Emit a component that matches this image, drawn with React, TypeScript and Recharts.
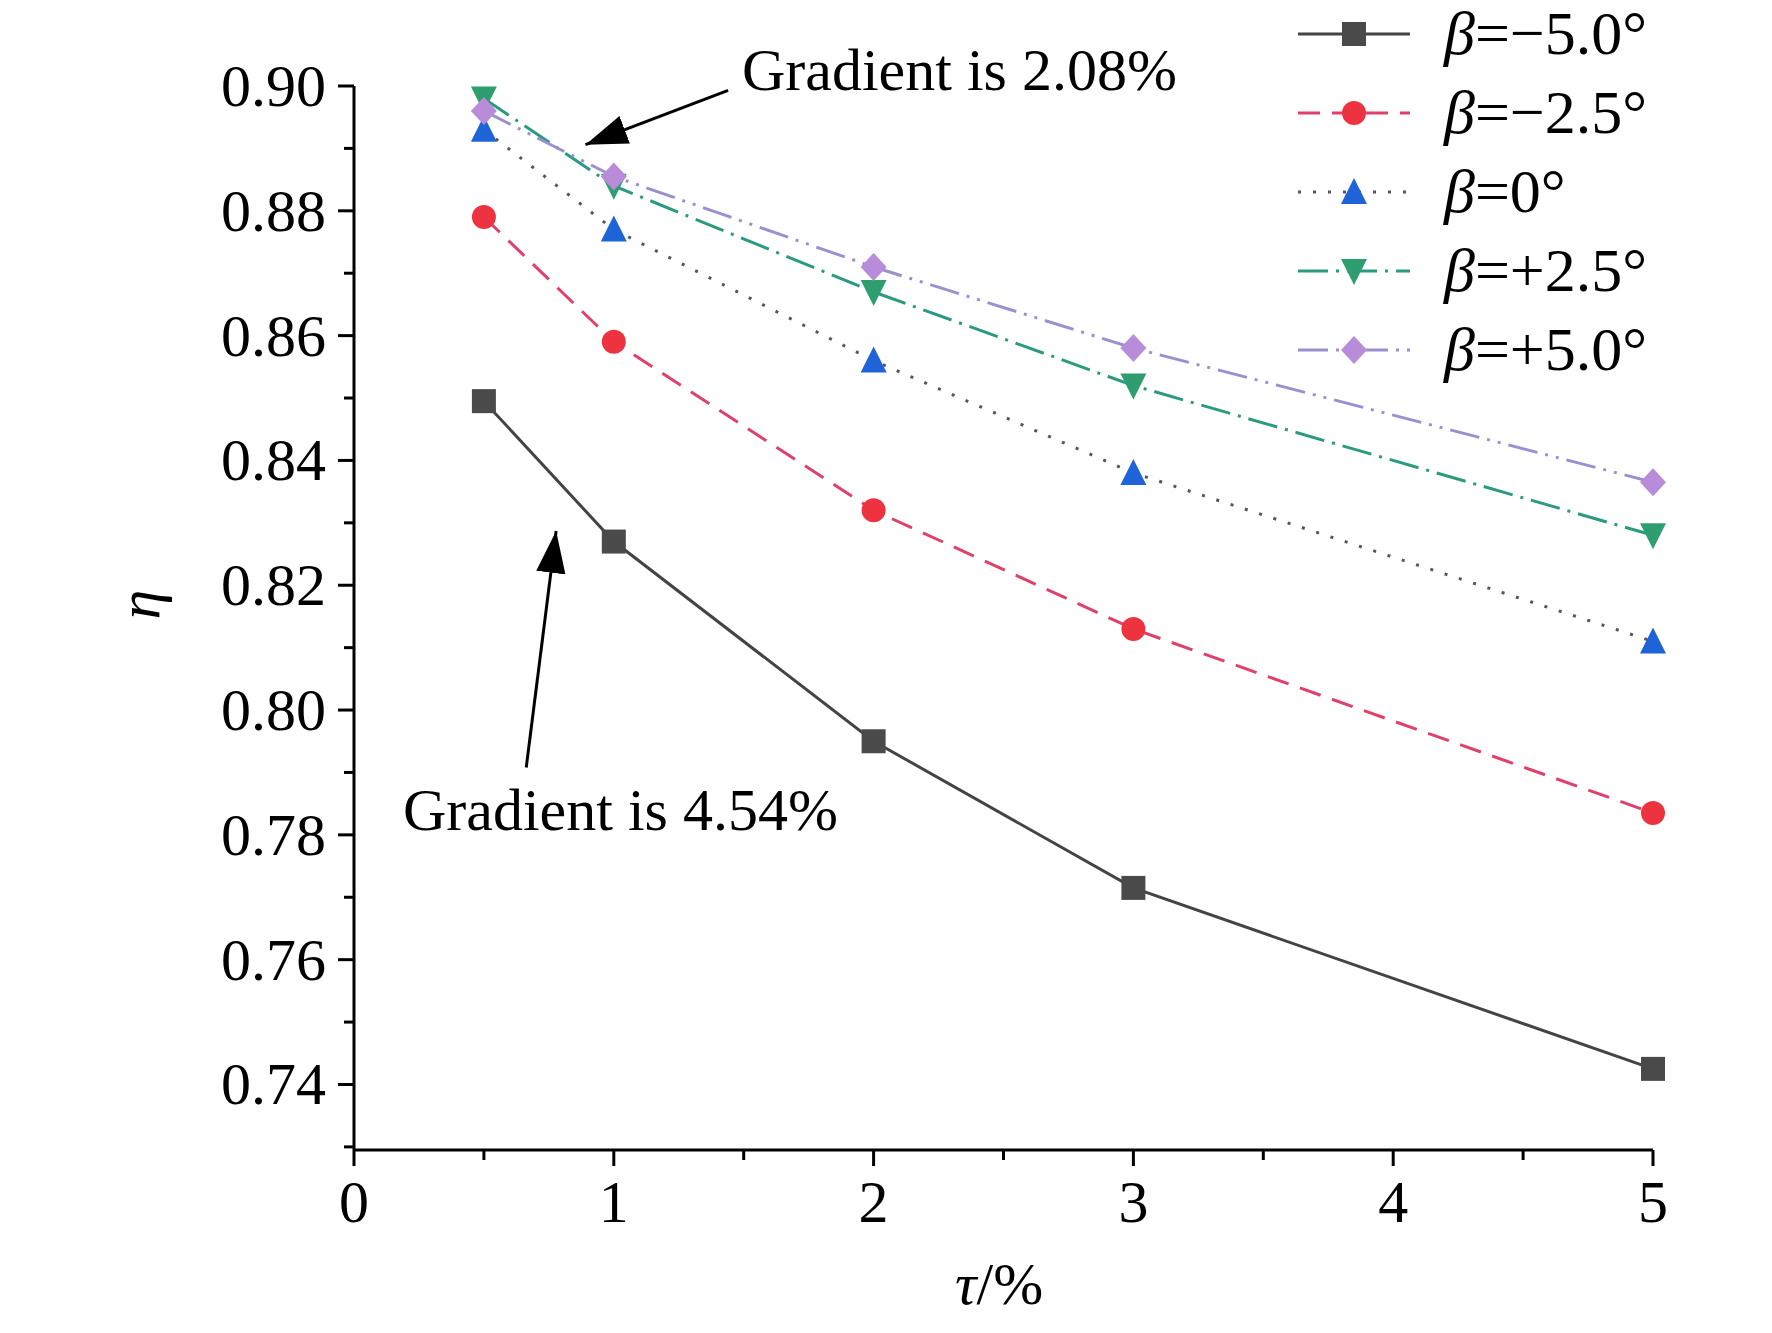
import React from 'react';
import { LineChart, Line, XAxis, YAxis, ReferenceLine } from 'recharts';

const tau = [0.5, 1, 2, 3, 5];
const bM50 = [0.8495, 0.827, 0.795, 0.7715, 0.7425];
const bM25 = [0.879, 0.859, 0.832, 0.813, 0.7835];
const b0 = [0.893, 0.877, 0.856, 0.838, 0.811];
const bP25 = [0.898, 0.884, 0.867, 0.852, 0.828];
const bP50 = [0.896, 0.8855, 0.871, 0.858, 0.8365];
const xTicks = [0, 0.5, 1, 1.5, 2, 2.5, 3, 3.5, 4, 4.5, 5];
const yTicks = [0.73, 0.74, 0.75, 0.76, 0.77, 0.78, 0.79, 0.8, 0.81, 0.82, 0.83, 0.84, 0.85, 0.86, 0.87, 0.88, 0.89, 0.9];

const data = tau.map((t, i) => ({ t, a: bM50[i], b: bM25[i], c: b0[i], d: bP25[i], e: bP50[i] }));

const FONT = 'Liberation Serif, Times New Roman, serif';

const Marker = ({ kind, cx, cy, fill }: any) => {
  const s = 12;
  if (kind === 'square') return <rect x={cx - s} y={cy - s} width={2 * s} height={2 * s} fill={fill} />;
  if (kind === 'circle') return <circle cx={cx} cy={cy} r={s} fill={fill} />;
  if (kind === 'up') return <polygon points={`${cx},${cy - s - 2} ${cx - s - 1},${cy + s} ${cx + s + 1},${cy + s}`} fill={fill} />;
  if (kind === 'down') return <polygon points={`${cx},${cy + s + 2} ${cx - s - 1},${cy - s} ${cx + s + 1},${cy - s}`} fill={fill} />;
  return <polygon points={`${cx},${cy - s - 2} ${cx + s + 1},${cy} ${cx},${cy + s + 2} ${cx - s - 1},${cy}`} fill={fill} />;
};

const series = [
  { key: 'a', name: 'β=−5.0°', stroke: '#444444', fill: '#4a4a4a', dash: undefined, kind: 'square' },
  { key: 'b', name: 'β=−2.5°', stroke: '#e0406a', fill: '#ee3340', dash: '22 12', kind: 'circle' },
  { key: 'c', name: 'β=0°', stroke: '#555566', fill: '#1f63d8', dash: '3 12', kind: 'up' },
  { key: 'd', name: 'β=+2.5°', stroke: '#2a9a80', fill: '#2e9e70', dash: '30 8 3 8', kind: 'down' },
  { key: 'e', name: 'β=+5.0°', stroke: '#9a90d0', fill: '#b88cd8', dash: '30 8 3 8 3 8', kind: 'diamond' },
];

const XTick = ({ x, y, payload }: any) => {
  const major = Number.isInteger(payload.value);
  return (
    <g>
      <line x1={x} x2={x} y1={y - 8} y2={y - 8 + (major ? 16 : 10)} stroke="#000" strokeWidth={3} />
      {major && <text x={x} y={y + 64} textAnchor="middle" fontFamily={FONT} fontSize={60} fill="#000">{payload.value}</text>}
    </g>
  );
};
const YTick = ({ x, y, payload }: any) => {
  const v = Math.round(payload.value * 100);
  const major = v % 2 === 0 && v >= 74;
  return (
    <g>
      <line x1={x + 8} x2={x + 8 - (major ? 16 : 10)} y1={y} y2={y} stroke="#000" strokeWidth={3} />
      {major && <text x={x - 20} y={y + 20} textAnchor="end" fontFamily={FONT} fontSize={60} fill="#000">{payload.value.toFixed(2)}</text>}
    </g>
  );
};

const ArrowLine = (p: any) => (
  <line x1={p.x1} y1={p.y1} x2={p.x2} y2={p.y2} stroke="#000" strokeWidth={3} markerEnd="url(#arrowHead)" />
);

const LegendBox = () => (
  <svg width={480} height={400} style={{ position: 'absolute', left: 1298, top: 0 }}>
    {series.map((s, i) => {
      const y = 34 + i * 79;
      return (
        <g key={s.key}>
          <line x1={0} x2={112} y1={y} y2={y} stroke={s.stroke} strokeWidth={3} strokeDasharray={s.dash} />
          <Marker kind={s.kind} cx={56} cy={y} fill={s.fill} />
          <text x={146} y={y + 20} fontFamily={FONT} fontSize={62} fill="#000"><tspan fontStyle="italic">β</tspan>{s.name.slice(1)}</text>
        </g>
      );
    })}
  </svg>
);

export default function App() {
  return (
    <div style={{ position: 'absolute', left: 0, top: 0, width: 1772, height: 1333, background: '#fff' }}>
      <svg width={0} height={0} style={{ position: 'absolute' }}>
        <defs>
          <marker id="arrowHead" viewBox="0 0 20 14" refX="20" refY="7" markerWidth="14" markerHeight="10" markerUnits="strokeWidth" orient="auto">
            <path d="M0,0 L20,7 L0,14 z" fill="#000" />
          </marker>
        </defs>
      </svg>
      <LineChart width={1772} height={1333} data={data} margin={{ top: 86, right: 119, bottom: 0, left: 100 }}>
        <XAxis dataKey="t" type="number" domain={[0, 5]} ticks={xTicks} interval={0} height={183} tickLine={false} axisLine={{ stroke: '#000', strokeWidth: 3 }} tick={<XTick />} />
        <YAxis type="number" domain={[0.7295, 0.9]} ticks={yTicks} interval={0} width={254} tickLine={false} axisLine={{ stroke: '#000', strokeWidth: 3 }} tick={<YTick />} allowDataOverflow />
        <ReferenceLine segment={[{ x: 1.44, y: 0.8993 }, { x: 0.891, y: 0.8906 }]} shape={<ArrowLine />} ifOverflow="visible" />
        <ReferenceLine segment={[{ x: 0.663, y: 0.7908 }, { x: 0.778, y: 0.8287 }]} shape={<ArrowLine />} ifOverflow="visible" />
        {series.map((s) => (
          <Line key={s.key} dataKey={s.key} name={s.name} stroke={s.stroke} strokeWidth={3} strokeDasharray={s.dash} isAnimationActive={false}
            dot={(p: any) => <Marker key={`${s.key}-${p.index}`} kind={s.kind} cx={p.cx} cy={p.cy} fill={s.fill} />} activeDot={false} />
        ))}
      </LineChart>
      <LegendBox />
      <div style={{ position: 'absolute', left: 742, top: 36, fontFamily: FONT, fontSize: 60, whiteSpace: 'nowrap' }}>Gradient is 2.08%</div>
      <div style={{ position: 'absolute', left: 403, top: 776, fontFamily: FONT, fontSize: 60, whiteSpace: 'nowrap' }}>Gradient is 4.54%</div>
      <div style={{ position: 'absolute', left: 125, top: 570, fontFamily: FONT, fontSize: 60, fontStyle: 'italic', transform: 'rotate(-90deg)' }}>η</div>
      <div style={{ position: 'absolute', left: 955, top: 1250, fontFamily: FONT, fontSize: 60, whiteSpace: 'nowrap' }}><i>τ</i>/%</div>
    </div>
  );
}
